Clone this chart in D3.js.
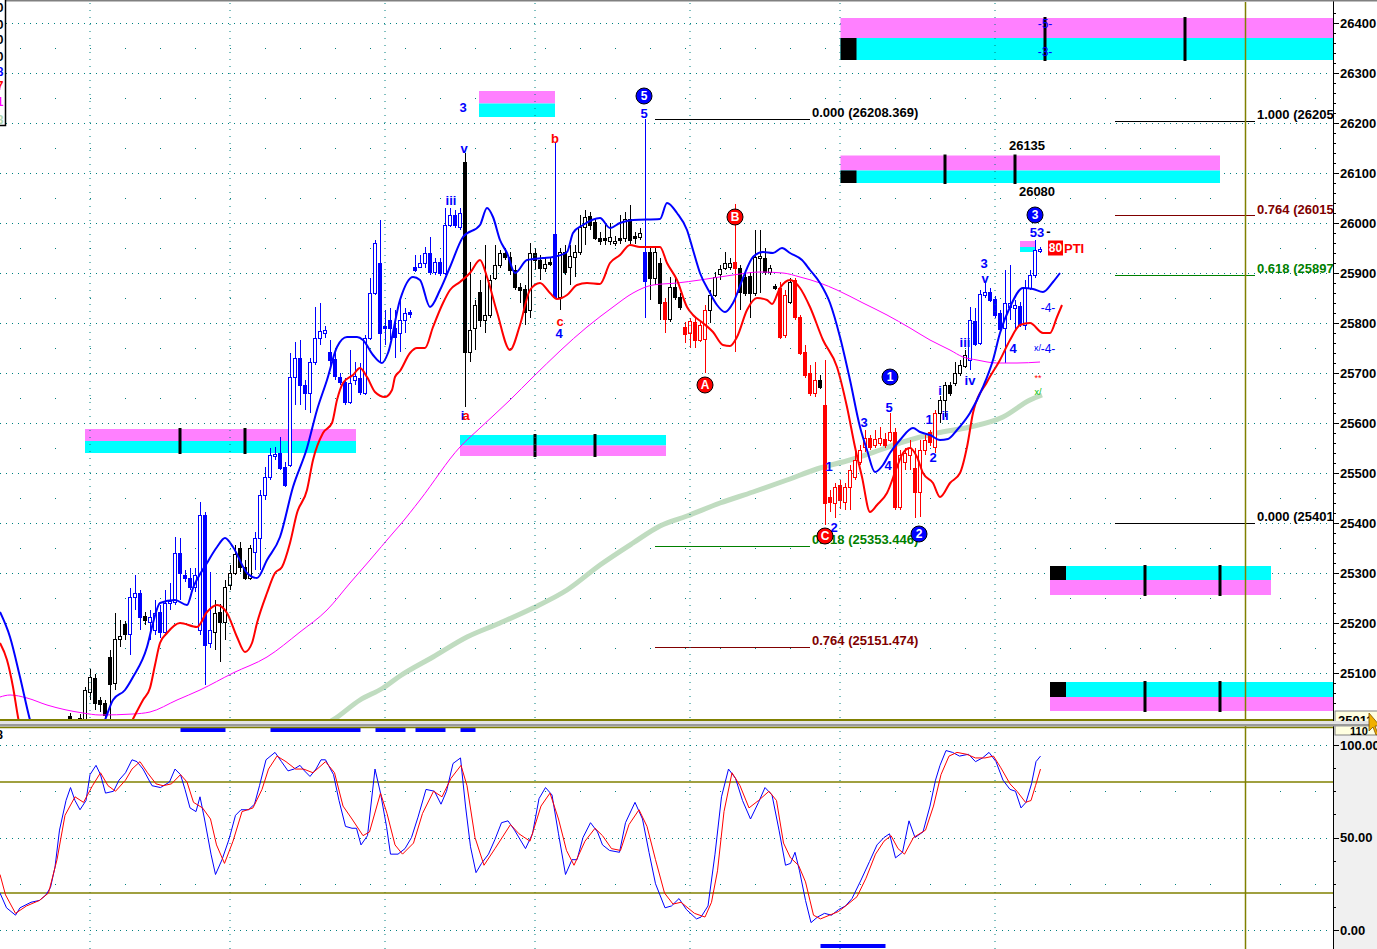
<!DOCTYPE html>
<html>
<head>
<meta charset="utf-8">
<script src="https://cdn.jsdelivr.net/npm/d3@7"></script>
<style>
  body { margin: 0; background: #fff; overflow: hidden; }
  svg { display: block; font-family: "Liberation Sans", Arial, sans-serif; }
</style>
</head>
<body>
<svg width="1377" height="949"></svg>
<script>
// ---------- price bars (bar 0 .. 194) ----------
const opens = [25014,24976,24976,25002,25062,25090,25046,25040,25132,25080,
  25168,25198,25178,25252,25260,25214,25202,25186,25222,25182,
  25240,25242,25340,25296,25290,25272,25186,25416,25160,25182,
  25222,25202,25276,25300,25350,25312,25290,25342,25370,25456,
  25492,25534,25540,25512,25516,25692,25730,25676,25660,25722,
  25770,25780,25742,25728,25692,25682,25642,25686,25690,25660,
  25770,25860,25920,25794,25806,25790,25780,25806,25822,25912,
  25912,25920,25940,25902,25922,25900,25996,26016,25992,26122,
  25742,25790,25862,25806,25816,25890,25916,25940,25932,25906,
  25872,25868,25826,25940,25926,25910,25922,25978,25852,25942,
  25912,25932,25942,25992,26014,26002,25970,25970,25964,25960,
  25970,25970,26008,25974,25972,25942,25942,25890,25920,25842,
  25808,25872,25852,25792,25780,25802,25766,25768,25826,25856,
  25898,25910,25912,25922,25910,25892,25894,25860,25930,25930,
  25902,25874,25870,25776,25842,25886,25812,25742,25700,25660,
  25686,25636,25452,25440,25476,25442,25472,25492,25522,25552,
  25570,25556,25560,25568,25566,25582,25432,25522,25536,25510,
  25462,25546,25582,25552,25620,25646,25676,25680,25700,25714,
  25726,25804,25760,25856,25862,25848,25820,25790,25832,25830,
  25834,25796,25870,25896,25944];
const closes = [25002,24998,25010,25066,25092,25040,25038,25016,25078,25168,
  25174,25178,25252,25260,25212,25206,25212,25220,25182,25240,
  25244,25340,25300,25290,25272,25296,25416,25156,25186,25220,
  25202,25272,25300,25338,25312,25290,25350,25370,25456,25492,
  25536,25538,25510,25476,25692,25730,25676,25660,25722,25770,
  25784,25786,25726,25694,25682,25642,25680,25694,25662,25770,
  25860,25960,25780,25790,25790,25772,25806,25820,25818,25906,
  25920,25940,25902,25922,25900,25996,26016,25996,26020,25742,
  25786,25836,25806,25816,25886,25916,25940,25932,25906,25872,
  25866,25822,25940,25926,25910,25918,25918,25852,25942,25902,
  25934,25942,25992,26012,25996,25970,25964,25966,25972,25964,
  25966,26008,25966,25970,25980,25884,25890,25942,25840,25808,
  25872,25852,25832,25778,25804,25766,25796,25826,25856,25892,
  25908,25920,25920,25910,25862,25860,25860,25932,25934,25902,
  25910,25870,25772,25856,25882,25812,25740,25696,25660,25686,
  25672,25440,25442,25472,25446,25472,25506,25526,25546,25570,
  25552,25568,25570,25556,25582,25432,25536,25540,25550,25462,
  25546,25566,25562,25620,25646,25676,25660,25700,25716,25736,
  25806,25758,25858,25862,25846,25816,25788,25840,25840,25836,
  25798,25870,25896,25946,25948];
const highs = [25020,25002,25018,25072,25108,25098,25052,25046,25146,25220,
  25206,25204,25270,25296,25266,25222,25226,25246,25236,25266,
  25280,25372,25370,25306,25310,25310,25442,25422,25302,25246,
  25238,25286,25316,25356,25362,25326,25356,25382,25466,25512,
  25550,25552,25572,25522,25740,25762,25766,25686,25730,25832,
  25840,25794,25766,25742,25700,25690,25746,25722,25720,25776,
  25890,25966,26006,25826,25830,25826,25846,25830,25826,25936,
  25936,25952,25972,25930,25930,26030,26030,26026,26030,26140,
  25922,25846,25886,25956,25896,25956,25946,25950,25942,25916,
  25880,25876,25960,25950,25936,25930,25930,26160,25950,25956,
  25956,25956,26016,26026,26022,26010,25982,25996,26000,25974,
  26016,26022,26036,25982,25990,26208,25950,25950,25930,25850,
  25892,25890,25860,25802,25810,25810,25802,25836,25866,25902,
  25916,25942,25930,26038,25916,25902,25902,25986,25986,25950,
  25916,25878,25882,25866,25890,25890,25816,25756,25716,25722,
  25696,25726,25466,25480,25486,25480,25516,25546,25556,25586,
  25576,25586,25592,25580,25620,25590,25546,25550,25566,25550,
  25566,25576,25586,25626,25654,25682,25682,25722,25726,25746,
  25832,25830,25866,25880,25870,25854,25826,25906,25916,25846,
  25842,25886,25906,25966,25952];
const lows = [24986,24966,24966,24986,25046,25026,25022,25002,25006,25066,
  25152,25166,25136,25226,25186,25196,25166,25176,25170,25174,
  25226,25236,25246,25282,25266,25262,25176,25076,25150,25146,
  25122,25166,25266,25296,25302,25286,25286,25306,25306,25446,
  25486,25526,25506,25472,25512,25636,25636,25626,25620,25716,
  25756,25770,25716,25686,25676,25636,25638,25676,25656,25656,
  25766,25856,25720,25756,25766,25730,25742,25780,25810,25902,
  25910,25910,25896,25896,25894,25896,25992,25990,25986,25632,
  25722,25746,25792,25780,25810,25886,25910,25926,25896,25866,
  25840,25796,25810,25906,25886,25902,25914,25850,25826,25896,
  25876,25892,25936,25956,25986,25966,25956,25956,25956,25954,
  25958,25962,25958,25958,25966,25810,25846,25876,25806,25780,
  25802,25846,25826,25760,25750,25750,25762,25700,25800,25852,
  25886,25906,25906,25742,25826,25854,25810,25854,25860,25896,
  25896,25866,25768,25770,25838,25806,25736,25690,25654,25652,
  25668,25396,25422,25410,25428,25426,25426,25486,25516,25542,
  25546,25550,25554,25550,25562,25426,25426,25506,25506,25410,
  25412,25536,25554,25540,25600,25612,25654,25674,25694,25710,
  25706,25754,25756,25850,25842,25810,25784,25720,25806,25786,
  25792,25786,25866,25890,25940];
// bar colour runs: k = black, b = blue, r = red
const barColorRuns = [["k",12],["b",3],["k",1],["b",13],["k",8],["b",42],["k",18],["b",1],
  ["k",17],["b",1],["k",3],["r",1],["k",3],["r",5],["k",5],["r",1],["k",8],["r",2],["k",1],
  ["r",5],["k",1],["r",23],["k",6],["b",15]];

// ---------- moving averages [bar, price] ----------
const maBlue = [[-14.1,25222],[-12.1,25172],[-10.1,25092],[-8.1,25006],[-6.9,24966],[-4.1,24926],[0.9,24916],[4.9,24956],[6.9,25006],[8.5,25046],[10.9,25066],[12.5,25092],[15.3,25152],[16.5,25200],[17.9,25240],[20.9,25246],[23.3,25236],[24.5,25270],[27.3,25320],[29.3,25352],[30.9,25370],[32.5,25352],[35.3,25300],[37.3,25290],[39.3,25326],[41.9,25372],[44.5,25472],[47.3,25550],[49.3,25626],[51.3,25686],[53.3,25752],[55.3,25772],[57.3,25772],[58.5,25766],[60.5,25736],[62.3,25720],[63.5,25740],[65.9,25846],[68.5,25892],[69.9,25886],[71.9,25832],[73.9,25866],[75.9,25912],[78.5,25972],[81.9,25996],[83.3,26030],[84.5,26012],[85.9,25966],[87.3,25940],[88.9,25900],[91.3,25926],[94.5,25930],[96.5,25932],[99.3,25942],[100.5,25980],[102.5,25996],[105.9,26010],[107.9,25990],[109.9,26000],[112.5,26006],[117.9,26008],[119.3,26040],[121.3,26020],[123.3,25986],[124.5,25946],[125.9,25900],[127.9,25860],[129.3,25836],[130.9,25822],[132.5,25840],[134.5,25890],[136.5,25932],[138.5,25942],[140.5,25940],[142.3,25950],[143.9,25940],[146.3,25926],[147.9,25906],[149.9,25880],[151.9,25840],[153.9,25772],[155.9,25686],[157.9,25592],[159.3,25546],[160.9,25502],[162.5,25516],[163.9,25540],[165.9,25566],[168.5,25590],[169.9,25582],[171.9,25576],[173.9,25566],[175.5,25568],[177.3,25586],[179.9,25620],[182.5,25672],[184.5,25726],[185.9,25780],[187.9,25832],[190.5,25870],[192.5,25868],[194.5,25862],[196.5,25882],[197.9,25900]];
const maRed = [[-14.1,25160],[-12.7,25126],[-11.5,25072],[-10.5,25012],[-9.5,24966],[-2.1,24866],[5.9,24906],[10.9,24976],[12.5,25008],[14.5,25046],[15.9,25070],[16.9,25116],[17.9,25160],[19.3,25180],[21.9,25200],[25.3,25192],[27.3,25222],[29.3,25236],[31.3,25220],[33.3,25172],[34.9,25142],[36.3,25160],[37.3,25200],[39.3,25260],[40.9,25300],[42.3,25312],[43.9,25360],[45.3,25420],[47.3,25466],[48.5,25526],[50.5,25580],[52.3,25600],[53.3,25646],[54.5,25680],[56.5,25696],[57.9,25710],[59.3,25692],[60.9,25662],[62.9,25652],[64.3,25666],[64.9,25692],[65.9,25704],[67.9,25740],[69.3,25750],[70.9,25750],[72.5,25792],[74.5,25840],[75.9,25866],[77.9,25882],[79.9,25900],[81.9,25926],[83.3,25892],[85.3,25822],[87.9,25746],[89.9,25796],[91.9,25866],[93.9,25880],[95.9,25860],[97.3,25848],[99.3,25856],[101.3,25876],[103.3,25880],[105.9,25878],[107.9,25920],[109.9,25936],[111.9,25956],[113.9,25952],[117.9,25952],[119.3,25920],[121.3,25886],[123.3,25832],[124.5,25816],[126.5,25800],[128.5,25782],[130.5,25756],[131.9,25754],[133.3,25772],[135.3,25826],[137.3,25850],[139.3,25846],[140.3,25838],[141.9,25870],[143.9,25886],[145.9,25870],[147.9,25832],[150.5,25766],[153.3,25712],[155.3,25632],[156.9,25552],[158.3,25492],[159.9,25422],[161.3,25436],[163.3,25460],[165.3,25512],[166.5,25540],[167.9,25550],[169.3,25532],[170.5,25500],[172.5,25480],[173.9,25452],[175.9,25480],[177.9,25500],[179.3,25552],[180.5,25620],[183.3,25682],[185.9,25726],[187.9,25766],[189.9,25796],[191.9,25800],[194.5,25780],[195.9,25780],[197.3,25812],[198.3,25836]];
const maMagenta = [[-14.1,25052],[-12.1,25056],[-8.7,25050],[-4.7,25036],[2.5,25020],[5.9,25016],[12.5,25018],[15.9,25022],[21.3,25046],[25.9,25066],[32.5,25100],[39.3,25132],[45.9,25182],[51.3,25226],[55.9,25280],[59.9,25326],[64.5,25380],[65.9,25396],[69.9,25446],[77.9,25552],[81.9,25590],[87.9,25646],[92.5,25692],[103.3,25792],[108.5,25832],[112.5,25860],[116.5,25876],[121.3,25880],[125.9,25886],[132.5,25896],[137.9,25902],[142.5,25900],[145.9,25892],[149.9,25880],[153.3,25866],[158.5,25840],[163.3,25816],[167.9,25790],[171.9,25766],[175.9,25746],[178.5,25732],[181.3,25726],[185.3,25720],[189.3,25720],[193.9,25722]];
const maGreen = [[45.9,24976],[52.5,25006],[57.9,25046],[62.5,25070],[65.9,25094],[72.5,25132],[79.3,25172],[85.9,25200],[92.5,25230],[99.3,25266],[105.9,25316],[112.5,25360],[117.9,25394],[123.3,25414],[129.9,25440],[136.5,25462],[143.3,25486],[149.9,25510],[155.9,25526],[161.9,25546],[166.5,25562],[173.3,25580],[179.9,25592],[186.5,25612],[191.9,25646],[194.3,25656]];

// ---------- stochastic [bar, value] ----------
const stochK = [[-14.1,20],[-12.8,12],[-11,8],[-10.1,12],[-7.9,15],[-6.2,16],[-4.9,19],[-4,23],[-3.1,34],[-2.2,54],[-0.9,70],[0,77],[0.9,70],[1.9,65],[3.1,70],[3.9,84],[5.1,89],[6,84],[7,74],[8.6,75],[9.7,81],[11,85],[12.3,92],[13.3,91],[14.5,87],[16.3,78],[18,77],[19.8,80],[20.9,87],[22,84],[22.9,76],[23.9,66],[25.1,64],[25.9,72],[26.8,60],[28.1,41],[29,30],[30.3,38],[31.7,49],[33,62],[34.1,65],[35.6,65],[36.8,68],[37.8,78],[39.1,92],[40.9,96],[42.2,91],[43.5,86],[44.7,87],[45.9,89],[46.8,86],[47.9,83],[49.1,87],[50.1,92],[51,92],[52.6,84],[53.7,70],[55,56],[56.3,55],[57.2,55],[58.1,46],[59.4,51],[60.9,87],[62,74],[63.2,56],[64,41],[65.5,41],[66.9,44],[68.2,50],[69.5,61],[71.1,76],[72.8,75],[74.1,68],[75.2,75],[76.5,90],[78,93],[79,67],[80,45],[81.1,31],[82.2,36],[83.6,41],[84.9,49],[86.2,58],[87.5,59],[88.8,54],[91,44],[92.4,52],[93.7,71],[95,77],[96.3,73],[97.6,52],[99,30],[100.3,38],[101.3,38],[102.5,50],[104,58],[105.4,53],[106.4,46],[107.8,43],[109.8,42],[111,58],[112.9,69],[114.4,60],[115.7,42],[117,25],[118.9,12],[120.2,13],[121.7,17],[123.2,11],[125.2,6],[126.1,7],[127.5,13],[128.9,41],[130.2,72],[131.6,87],[133,82],[134.4,70],[136,60],[137.6,69],[138.9,77],[140.3,73],[141.7,54],[143,35],[144,36],[144.9,42],[145.8,32],[147,16],[148.1,4],[149.4,7],[150.8,9],[152.2,8],[153.6,11],[155,13],[156.3,17],[158.1,27],[159.8,37],[161.3,46],[162.7,50],[163.8,52],[165,39],[166.4,42],[167.7,59],[168.9,50],[170.5,53],[171.9,67],[173,81],[173.9,89],[175.1,97],[176.4,96],[177.8,94],[179.6,95],[181,91],[182.4,93],[183.7,96],[185.1,91],[186.5,81],[187.9,76],[189,75],[190.1,66],[191.1,69],[192.2,79],[193.1,91],[194,94]];
const stochD = [[-14.1,30],[-13,19],[-11,9],[-8.8,13],[-6.2,16],[-4.4,20],[-2.7,38],[-1.1,62],[0.9,72],[2.6,69],[4.4,78],[6,85],[7.5,78],[9,75],[11,81],[12.3,87],[13.9,91],[15.4,85],[17.1,79],[18.5,78],[20.2,79],[22,84],[23.3,80],[24.6,69],[26.4,66],[28,60],[29.2,46],[30.8,36],[32.5,48],[34.3,64],[36.5,66],[38.3,76],[39.6,87],[41.3,94],[43.1,91],[45,87],[46.6,87],[48.5,85],[51,91],[52.8,85],[54.5,67],[56.3,60],[58.5,51],[59.8,53],[62,74],[63.3,63],[64.9,46],[66.4,41],[68.6,47],[70.4,63],[72.6,75],[74.3,72],[76.1,82],[78.1,89],[79.3,78],[80.9,50],[82.7,35],[84.9,44],[88,57],[89.7,52],[91.9,48],[94.1,67],[95.9,74],[97.6,60],[99.2,43],[100.7,35],[102.9,48],[104.9,55],[106.4,51],[108.2,44],[110,43],[111.7,57],[113.7,65],[115.3,56],[117,38],[118.8,20],[120.5,14],[122.1,15],[124.8,9],[126.9,7],[128.2,15],[129.4,32],[130.7,64],[132.3,85],[133.9,78],[135.7,66],[137.6,70],[139.7,75],[141.2,70],[142.6,47],[144,39],[145.6,35],[147,26],[148.6,8],[150,6],[151.8,8],[153.6,10],[155.5,14],[157.3,18],[159.1,28],[161,41],[162.7,48],[164.1,51],[165.5,44],[166.8,41],[168.6,50],[171,54],[172.6,67],[174.1,84],[175.7,94],[177.3,96],[179.2,95],[181,93],[182.9,93],[184.6,94],[186,88],[187.9,79],[189.3,75],[191,69],[192.1,70],[193,78],[194,87]];
const signalTop = [[22,31],[40,58],[61,67],[69,75],[78,81]];
const signalBottom = [[150,163]];

// ---------- annotations ----------
const priceTicks = d3.range(25100, 26401, 100);
const sessionStarts = [4, 32, 63, 93, 124, 154, 185];
const zones = [
  {from: 2.9, to: 57.1, top: 25588, mid: 25564, bottom: 25540, upper: "m", marks: [21.9, 34.9], square: false},
  {from: 77.9, to: 119.1, top: 25576, mid: 25555, bottom: 25534, upper: "c", marks: [92.9, 104.9], square: false},
  {from: 81.7, to: 96.9, top: 26264, mid: 26239, bottom: 26212, upper: "m", marks: [], square: false},
  {from: 154, to: 262, top: 26410, mid: 26370, bottom: 26326, upper: "m", marks: [194.9, 222.9], square: true},
  {from: 154, to: 229.9, top: 26135, mid: 26105, bottom: 26080, upper: "m", marks: [174.9, 188.9], square: true},
  {from: 195.9, to: 240.1, top: 25314, mid: 25286, bottom: 25256, upper: "c", marks: [214.9, 229.9], square: true},
  {from: 195.9, to: 262, top: 25082, mid: 25052, bottom: 25024, upper: "c", marks: [214.9, 229.9], square: true},
  {from: 189.9, to: 192.9, top: 25964, mid: 25952, bottom: 25942, upper: "m", marks: [], square: false}
];
const zoneLabels = [{bar: 191.3, price: 26156, text: "26135"}, {bar: 193.3, price: 26064, text: "26080"}];
const fibLeft = {from: 116.9, to: 147.9, levels: [["0.000", 26208.369], ["0.618", 25353.446], ["0.764", 25151.474]]};
const fibRight = {from: 208.9, to: 236.9, levels: [["1.000", 26205], ["0.764", 26015], ["0.618", 25897], ["0.000", 25401]]};
const waveLabels = [
  {bar: 78.5, price: 26232, text: "3", c: "b"}, {bar: 78.7, price: 26150, text: "v", c: "b"},
  {bar: 76.1, price: 26046, text: "iii", c: "b"}, {bar: 78.4, price: 25616, text: "i", c: "b"},
  {bar: 79.1, price: 25616, text: "a", c: "r"}, {bar: 96.9, price: 26170, text: "b", c: "r"},
  {bar: 97.9, price: 25804, text: "c", c: "r"}, {bar: 97.7, price: 25780, text: "4", c: "b"},
  {bar: 114.7, price: 26220, text: "5", c: "b"},
  {bar: 151.7, price: 25514, text: "1", c: "b"}, {bar: 152.7, price: 25392, text: "2", c: "b"},
  {bar: 158.7, price: 25602, text: "3", c: "b"}, {bar: 163.7, price: 25632, text: "5", c: "b"},
  {bar: 163.5, price: 25516, text: "4", c: "b"}, {bar: 171.7, price: 25608, text: "1", c: "b"},
  {bar: 172.5, price: 25532, text: "2", c: "b"}, {bar: 173.9, price: 25666, text: "i", c: "b"},
  {bar: 174.9, price: 25616, text: "ii", c: "b"}, {bar: 178.9, price: 25762, text: "iii", c: "b"},
  {bar: 179.9, price: 25686, text: "iv", c: "b"}, {bar: 182.7, price: 25920, text: "3", c: "b"},
  {bar: 182.9, price: 25890, text: "v", c: "b"}, {bar: 188.5, price: 25750, text: "4", c: "b"},
  {bar: 193.3, price: 25982, text: "53", c: "b"}, {bar: 195.6, price: 25984, text: "-", c: "k"},
  {bar: 195.5, price: 25830, text: "-4-", c: "b"}, {bar: 195.5, price: 25748, text: "-4-", c: "b"},
  {bar: 194.9, price: 26398, text: "-5-", c: "b"}, {bar: 194.9, price: 26342, text: "-3-", c: "b"}
];
const smallMarks = [
  {bar: 193.4, price: 25750, text: "x/", c: "b"}, {bar: 193.5, price: 25690, text: "**", c: "r"},
  {bar: 193.5, price: 25662, text: "x/", c: "g"}
];
const circledLabels = [
  {bar: 114.7, price: 26254, text: "5", c: "b"}, {bar: 132.9, price: 26012, text: "B", c: "r"},
  {bar: 126.9, price: 25676, text: "A", c: "r"}, {bar: 150.9, price: 25374, text: "C", c: "r"},
  {bar: 163.9, price: 25692, text: "1", c: "b"}, {bar: 169.7, price: 25378, text: "2", c: "b"},
  {bar: 192.9, price: 26016, text: "3", c: "b"}
];
const ptiLabel = {bar: 195.7, price: 25950, count: "80", text: "PTI"};
const lastPrice = "25011";

// ---------- setup ----------
const colorMap = {k: "#000000", b: "#0000ff", r: "#ff0000", g: "#00c000"};
const zoneColors = {m: "#ff80ff", c: "#00ffff"};
const teal = "#008080", olive = "#808000";
const axisX = 1333;
const crisp = v => Math.round(v) + 0.5;

let svg = d3.select("svg");
let x = d3.scaleLinear().domain([0, 194]).range([70.5, 1040.5]);
let yPrice = d3.scaleLinear().domain([25100, 26400]).range([673, 23]);
let yStoch = d3.scaleLinear().domain([0, 100]).range([930, 745]);

let defs = svg.append("defs");
defs.append("clipPath").attr("id", "clipPrice")
  .append("rect").attr("x", 0).attr("y", 2).attr("width", axisX).attr("height", 717);
defs.append("clipPath").attr("id", "clipStoch")
  .append("rect").attr("x", 0).attr("y", 728).attr("width", axisX).attr("height", 221);

let barColors = barColorRuns.flatMap(([c, n]) => Array(n).fill(c));
let bars = opens.map((o, i) => ({i: i, o: o, h: highs[i], l: lows[i], c: closes[i], col: colorMap[barColors[i]]}));

// ---------- price panel ----------
let gP = svg.append("g").attr("clip-path", "url(#clipPrice)");

// grid
gP.selectAll("line.hgrid").data(priceTicks).join("line")
  .attr("x1", 0).attr("x2", axisX - 6)
  .attr("y1", d => crisp(yPrice(d))).attr("y2", d => crisp(yPrice(d)))
  .attr("stroke", teal).attr("stroke-dasharray", "1,5");
let minorX = d3.range(20, axisX - 5, 35);
let minorY = d3.range(25150, 26400, 100).map(d => yPrice(d));
gP.selectAll("rect.mdot").data(d3.cross(minorX, minorY)).join("rect")
  .attr("x", d => d[0]).attr("y", d => Math.round(d[1])).attr("width", 1).attr("height", 1).attr("fill", teal);

// vertical grid lines for both panels
svg.append("g").selectAll("line").data(sessionStarts).join("line")
  .attr("x1", d => x(d) - 0.5).attr("x2", d => x(d) - 0.5)
  .attr("y1", 3).attr("y2", 949)
  .attr("stroke", teal).attr("stroke-dasharray", "1,6");

// zones
zones.forEach(z => {
  let x0 = x(z.from), x1 = x(z.to);
  let lowerColor = z.upper === "m" ? zoneColors.c : zoneColors.m;
  gP.append("rect").attr("x", x0).attr("width", x1 - x0)
    .attr("y", yPrice(z.top)).attr("height", yPrice(z.mid) - yPrice(z.top))
    .attr("fill", zoneColors[z.upper]);
  gP.append("rect").attr("x", x0).attr("width", x1 - x0)
    .attr("y", yPrice(z.mid)).attr("height", yPrice(z.bottom) - yPrice(z.mid))
    .attr("fill", lowerColor);
  if (z.square) {
    let sqTop = z.upper === "c" ? z.top : z.mid;
    let sqBot = z.upper === "c" ? z.mid : z.bottom;
    gP.append("rect").attr("x", x0).attr("width", 16)
      .attr("y", yPrice(sqTop)).attr("height", yPrice(sqBot) - yPrice(sqTop))
      .attr("fill", "#000");
  }
  gP.selectAll(null).data(z.marks).join("line")
    .attr("x1", d => x(d)).attr("x2", d => x(d))
    .attr("y1", yPrice(z.top) - 1).attr("y2", yPrice(z.bottom) + 1)
    .attr("stroke", "#000").attr("stroke-width", 3);
});
gP.selectAll("text.zl").data(zoneLabels).join("text")
  .attr("x", d => x(d.bar)).attr("y", d => yPrice(d.price))
  .attr("text-anchor", "middle").attr("dominant-baseline", "central")
  .attr("font-size", 13).attr("font-weight", "bold").attr("fill", "#000")
  .text(d => d.text);

// moving averages
let maLine = d3.line().x(d => x(d[0])).y(d => yPrice(d[1])).curve(d3.curveMonotoneX);
gP.append("path").datum(maGreen).attr("fill", "none").attr("stroke", "#c0dcc0")
  .attr("stroke-width", 5).attr("d", maLine);

// candles
let candle = gP.selectAll("g.candle").data(bars).join("g").attr("class", "candle");
candle.append("line")
  .attr("x1", d => x(d.i)).attr("x2", d => x(d.i))
  .attr("y1", d => yPrice(d.h)).attr("y2", d => yPrice(d.l))
  .attr("stroke", d => d.col).attr("shape-rendering", "crispEdges");
candle.append("rect")
  .attr("x", d => x(d.i) - 2).attr("width", 3)
  .attr("y", d => crisp(yPrice(Math.max(d.o, d.c))))
  .attr("height", d => Math.max(1, Math.round(yPrice(Math.min(d.o, d.c)) - yPrice(Math.max(d.o, d.c)))))
  .attr("fill", d => d.c > d.o ? "#fff" : d.col)
  .attr("stroke", d => d.col);

gP.append("path").datum(maMagenta).attr("fill", "none").attr("stroke", "#ff00ff")
  .attr("stroke-width", 1).attr("d", maLine);
gP.append("path").datum(maRed).attr("fill", "none").attr("stroke", "#ff0000")
  .attr("stroke-width", 2).attr("d", maLine);
gP.append("path").datum(maBlue).attr("fill", "none").attr("stroke", "#0000ff")
  .attr("stroke-width", 2).attr("d", maLine);

// fibonacci levels (right-hand labels run into the price axis, as in the source)
const fibColor = r => r === "0.618" ? "#008000" : (r === "0.764" ? "#800000" : "#000000");
[fibLeft, fibRight].forEach(f => {
  let lv = gP.selectAll(null).data(f.levels).join("g");
  lv.append("line")
    .attr("x1", x(f.from)).attr("x2", x(f.to))
    .attr("y1", d => crisp(yPrice(d[1]))).attr("y2", d => crisp(yPrice(d[1])))
    .attr("stroke", d => fibColor(d[0]));
  lv.append("text")
    .attr("x", x(f.to) + 2).attr("y", d => yPrice(d[1]) - 2)
    .attr("font-size", 13).attr("font-weight", "bold")
    .attr("fill", d => fibColor(d[0]))
    .text(d => d[0] + " (" + (f === fibLeft ? d[1].toFixed(3) + ")" : d[1]));
});

// wave labels
gP.selectAll("text.wave").data(waveLabels).join("text")
  .attr("x", d => x(d.bar)).attr("y", d => yPrice(d.price))
  .attr("text-anchor", "middle").attr("dominant-baseline", "central")
  .attr("font-size", d => d.text.startsWith("-") && d.text.length > 1 ? 12 : 13)
  .attr("font-weight", d => d.text.startsWith("-") && d.text.length > 1 ? "normal" : "bold")
  .attr("fill", d => colorMap[d.c])
  .text(d => d.text);
gP.selectAll("text.mark").data(smallMarks).join("text")
  .attr("x", d => x(d.bar)).attr("y", d => yPrice(d.price))
  .attr("text-anchor", "middle").attr("dominant-baseline", "central")
  .attr("font-size", 9).attr("fill", d => colorMap[d.c])
  .text(d => d.text);

let circ = gP.selectAll("g.circ").data(circledLabels).join("g")
  .attr("transform", d => "translate(" + x(d.bar) + "," + yPrice(d.price) + ")");
circ.append("circle").attr("r", 8)
  .attr("fill", d => colorMap[d.c]).attr("stroke", "#000").attr("stroke-width", 1);
circ.append("text").attr("text-anchor", "middle").attr("dominant-baseline", "central")
  .attr("font-size", 12).attr("font-weight", "bold").attr("fill", "#fff")
  .text(d => d.text);

// PTI tag
let pti = gP.append("g")
  .attr("transform", "translate(" + x(ptiLabel.bar) + "," + yPrice(ptiLabel.price) + ")");
pti.append("rect").attr("x", -1).attr("y", -7.5).attr("width", 15).attr("height", 15).attr("fill", "#ff0000");
pti.append("text").attr("x", 6.5).attr("y", 0).attr("text-anchor", "middle").attr("dominant-baseline", "central")
  .attr("font-size", 12).attr("font-weight", "bold").attr("fill", "#fff").text(ptiLabel.count);
pti.append("text").attr("x", 15).attr("y", 0).attr("dominant-baseline", "central")
  .attr("font-size", 13).attr("font-weight", "bold").attr("fill", "#ff0000").text(ptiLabel.text);

// ---------- stochastic panel ----------
let gS = svg.append("g").attr("clip-path", "url(#clipStoch)");
gS.selectAll("line.sg").data([0, 50, 100]).join("line")
  .attr("x1", 0).attr("x2", axisX - 6)
  .attr("y1", d => crisp(yStoch(d))).attr("y2", d => crisp(yStoch(d)))
  .attr("stroke", teal).attr("stroke-dasharray", "1,5");
gS.selectAll("rect.mdot").data(d3.cross(minorX, [25, 75].map(d => yStoch(d)))).join("rect")
  .attr("x", d => d[0]).attr("y", d => Math.round(d[1])).attr("width", 1).attr("height", 1).attr("fill", teal);
gS.selectAll("line.ob").data([20, 80]).join("line")
  .attr("x1", 0).attr("x2", axisX)
  .attr("y1", d => yStoch(d)).attr("y2", d => yStoch(d))
  .attr("stroke", olive).attr("stroke-width", 1.5);

let stochLine = d3.line().x(d => x(d[0])).y(d => yStoch(d[1]));
gS.append("path").datum(stochK).attr("fill", "none").attr("stroke", "#0000ff").attr("d", stochLine);
gS.append("path").datum(stochD).attr("fill", "none").attr("stroke", "#ff0000").attr("d", stochLine);

gS.selectAll("rect.sigT").data(signalTop).join("rect")
  .attr("x", d => x(d[0])).attr("width", d => x(d[1]) - x(d[0]))
  .attr("y", 728).attr("height", 4).attr("fill", "#0000ff");
gS.selectAll("rect.sigB").data(signalBottom).join("rect")
  .attr("x", d => x(d[0])).attr("width", d => x(d[1]) - x(d[0]))
  .attr("y", 944).attr("height", 4).attr("fill", "#0000ff");

// olive vertical marker line through both panels
svg.append("line").attr("x1", 1245.5).attr("x2", 1245.5).attr("y1", 2).attr("y2", 949)
  .attr("stroke", olive).attr("stroke-width", 1.5);

// ---------- right axes ----------
svg.append("rect").attr("x", axisX + 1).attr("y", 728).attr("width", 1377 - axisX).attr("height", 221)
  .attr("fill", "#f0f0f0");

let axisP = svg.append("g").attr("transform", "translate(" + axisX + ",0)")
  .call(d3.axisRight(yPrice).tickValues(priceTicks).tickSize(6).tickPadding(1).tickFormat(d3.format("d")));
let axisPm = svg.append("g").attr("transform", "translate(" + axisX + ",0)")
  .call(d3.axisRight(yPrice).tickValues(d3.range(25040, 26440, 20)).tickSize(3).tickFormat(""));
let axisS = svg.append("g").attr("transform", "translate(" + axisX + ",0)")
  .call(d3.axisRight(yStoch).tickValues([0, 50, 100]).tickSize(6).tickPadding(1).tickFormat(d3.format(".2f")));
let axisSm = svg.append("g").attr("transform", "translate(" + axisX + ",0)")
  .call(d3.axisRight(yStoch).tickValues(d3.range(0, 101, 12.5)).tickSize(3).tickFormat(""));
[axisP, axisPm, axisS, axisSm].forEach(a => {
  a.select(".domain").remove();
  a.selectAll("line").attr("stroke", "#000").attr("shape-rendering", "crispEdges");
  a.selectAll("text").attr("font-size", 13).attr("font-weight", "bold")
    .attr("font-family", "'Liberation Sans', Arial, sans-serif").attr("fill", "#000");
});
svg.append("line").attr("x1", axisX + 0.5).attr("x2", axisX + 0.5).attr("y1", 0).attr("y2", 949)
  .attr("stroke", "#000").attr("stroke-width", 1);

// last price tag
svg.append("rect").attr("x", axisX + 2).attr("y", 711).attr("width", 44).attr("height", 24)
  .attr("fill", "#ffffe0").attr("stroke", "#808080");
svg.append("text").attr("x", axisX + 5).attr("y", 725).attr("font-size", 13).attr("font-weight", "bold")
  .attr("fill", "#000").text(lastPrice);

// ---------- panel splitter ----------
svg.append("line").attr("x1", 0).attr("x2", axisX).attr("y1", 720).attr("y2", 720)
  .attr("stroke", olive).attr("stroke-width", 2);
svg.append("rect").attr("x", 0).attr("y", 721).attr("width", 1372).attr("height", 3).attr("fill", "#e4e4e4");
svg.append("rect").attr("x", 0).attr("y", 724).attr("width", 1372).attr("height", 2.5).attr("fill", "#9a9a9a");
svg.append("line").attr("x1", 0).attr("x2", axisX).attr("y1", 727.5).attr("y2", 727.5)
  .attr("stroke", olive).attr("stroke-width", 1.5);
svg.append("text").attr("x", axisX + 17).attr("y", 735).attr("font-size", 11).attr("font-weight", "bold")
  .attr("fill", "#000").text("110");
svg.append("path").attr("d", "M1369,713 L1369,731 L1373,727 L1376,735 L1378,734 L1375,726 L1380,726 Z")
  .attr("fill", "#f0b000").attr("stroke", "#805000").attr("stroke-width", 0.8);

// top frame line
svg.append("line").attr("x1", 0).attr("x2", 1377).attr("y1", 0.75).attr("y2", 0.75)
  .attr("stroke", "#808080").attr("stroke-width", 1.5);

// ---------- clipped legend at top left ----------
const legendRows = [["0", "k", 8], ["0", "k", 25], ["0", "k", 40], ["0", "k", 57], ["8", "b", 72], ["7", "r", 86], ["1", "m", 102], ["8", "lg", 120]];
const legendColors = {k: "#000", b: "#0000ff", r: "#ff0000", m: "#ff00ff", lg: "#b0d8b0"};
svg.append("rect").attr("x", -10).attr("y", -1).attr("width", 15.5).attr("height", 126.5)
  .attr("fill", "#fff").attr("stroke", "#000").attr("stroke-width", 1.5);
svg.selectAll("text.leg").data(legendRows).join("text")
  .attr("x", 3.5).attr("y", d => d[2]).attr("text-anchor", "end").attr("dominant-baseline", "central")
  .attr("font-size", 12).attr("font-weight", "bold").attr("fill", d => legendColors[d[1]])
  .text(d => d[0]);
svg.append("text").attr("x", 3).attr("y", 735).attr("text-anchor", "end").attr("dominant-baseline", "central")
  .attr("font-size", 12).attr("font-weight", "bold").attr("fill", "#000").text("8");
</script>
</body>
</html>
